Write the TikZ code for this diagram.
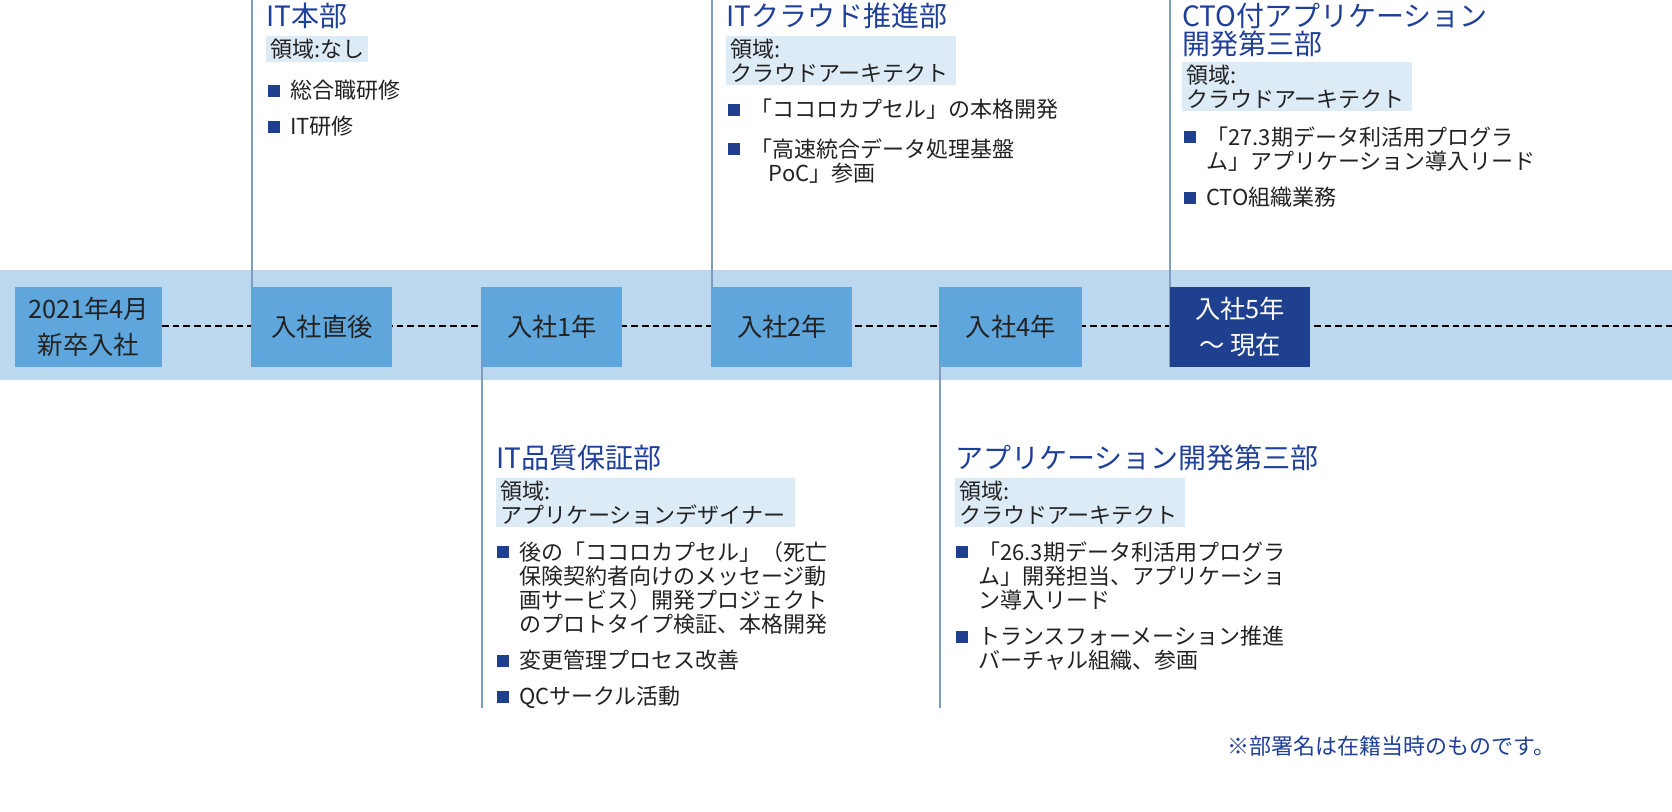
\documentclass[tikz,border=0pt]{standalone}
\usepackage{fontspec}
\setmainfont{Noto Sans CJK JP}
\definecolor{band}{HTML}{BBD8EE}
\definecolor{boxc}{HTML}{5EA6DC}
\definecolor{dark}{HTML}{1F3F8F}
\definecolor{ttl}{HTML}{1F3F99}
\definecolor{reg}{HTML}{DDEBF6}
\definecolor{vl}{HTML}{7F9CC0}
\definecolor{txt}{HTML}{222222}
\begin{document}
\begin{tikzpicture}[x=0.75pt,y=-0.75pt,
 stage/.style={fill=boxc,minimum width=105pt,minimum height=60pt,anchor=north west,inner sep=0pt,align=center,font=\fontsize{19}{27}\selectfont,text=txt},
 title/.style={anchor=north west,inner sep=0pt,text=ttl,font=\fontsize{21}{21}\selectfont,align=left},
 region/.style={anchor=north west,fill=reg,inner xsep=3pt,inner ysep=2pt,text=txt,font=\fontsize{16.5}{18}\selectfont,align=left},
 item/.style={anchor=north west,inner sep=0pt,text=txt,font=\fontsize{16.5}{18}\selectfont,align=left},
 sq/.style={fill=dark,minimum size=9pt,inner sep=0pt,anchor=center},
 vline/.style={draw=vl,line width=2pt}]
\useasboundingbox (0,0) rectangle (1672,812);
\fill[band] (0,270) rectangle (1672,380);
\coordinate (ds) at (162,326); \coordinate (de) at (1672,326);
\draw[black,line width=2.2pt,dash pattern=on 5pt off 3pt] (ds) -- (de);
\coordinate (v1t) at (252,0); \coordinate (v1b) at (252,367);
\coordinate (v2t) at (482,287); \coordinate (v2b) at (482,708);
\coordinate (v3t) at (712,0); \coordinate (v3b) at (712,367);
\coordinate (v4t) at (940,287); \coordinate (v4b) at (940,708);
\coordinate (v5t) at (1170,0); \coordinate (v5b) at (1170,367);
\draw[vline] (v1t)--(v1b); \draw[vline] (v2t)--(v2b); \draw[vline] (v3t)--(v3b);
\draw[vline] (v4t)--(v4b); \draw[vline] (v5t)--(v5b);
\node[stage,minimum width=110pt] (s0) at (15,287) {2021年4月\\新卒入社};
\node[stage] (s1) at (252,287) {入社直後};
\node[stage] (s2) at (482,287) {入社1年};
\node[stage] (s3) at (712,287) {入社2年};
\node[stage,minimum width=106pt] (s4) at (940,287) {入社4年};
\node[stage,fill=dark,text=white] (s5) at (1170,287) {入社5年\\〜 現在};
% block 1
\node[title] (t1) at (266,3) {IT本部};
\node[region] (r1) at (266,36) {領域:なし};
\node[sq] at (274,91) {}; \node[item] (i11) at (290,80) {総合職研修};
\node[sq] at (274,127) {}; \node[item] (i12) at (290,116) {IT研修};
% block 2
\node[title] (t2) at (726,3) {ITクラウド推進部};
\node[region,text width=166pt] (r2) at (726,36) {領域:\\クラウドアーキテクト};
\node[sq] at (734,110) {}; \node[item] (i21) at (750,99) {「ココロカプセル」の本格開発};
\node[sq] at (734,149) {}; \node[item] (i22) at (750,138) {「高速統合データ処理基盤\\\hspace*{14pt}PoC」参画};
% block 3
\node[title] (t3) at (1182,3) {CTO付アプリケーション\\開発第三部};
\node[region,text width=166pt] (r3) at (1182,62) {領域:\\クラウドアーキテクト};
\node[sq] at (1190,137) {}; \node[item] (i31) at (1206,126) {「27.3期データ利活用プログラ\\ム」アプリケーション導入リード};
\node[sq] at (1190,198) {}; \node[item] (i32) at (1206,187) {CTO組織業務};
% block 4
\node[title] (t4) at (496,445) {IT品質保証部};
\node[region,text width=218pt] (r4) at (496,478) {領域:\\アプリケーションデザイナー};
\node[sq] at (503,552) {}; \node[item] (i41) at (519,541) {後の「ココロカプセル」（死亡\\保険契約者向けのメッセージ動\\画サービス）開発プロジェクト\\のプロトタイプ検証、本格開発};
\node[sq] at (503,661) {}; \node[item] (i42) at (519,650) {変更管理プロセス改善};
\node[sq] at (503,697) {}; \node[item] (i43) at (519,686) {QCサークル活動};
% block 5
\node[title] (t5) at (955,445) {アプリケーション開発第三部};
\node[region,text width=166pt] (r5) at (955,478) {領域:\\クラウドアーキテクト};
\node[sq] at (962,552) {}; \node[item] (i51) at (978,541) {「26.3期データ利活用プログラ\\ム」開発担当、アプリケーショ\\ン導入リード};
\node[sq] at (962,637) {}; \node[item] (i52) at (978,626) {トランスフォーメーション推進\\バーチャル組織、参画};
\node[anchor=north east,inner sep=0pt,text=ttl,font=\fontsize{16.5}{18}\selectfont] (fn) at (1556,736) {※部署名は在籍当時のものです。};
\end{tikzpicture}
\end{document}
